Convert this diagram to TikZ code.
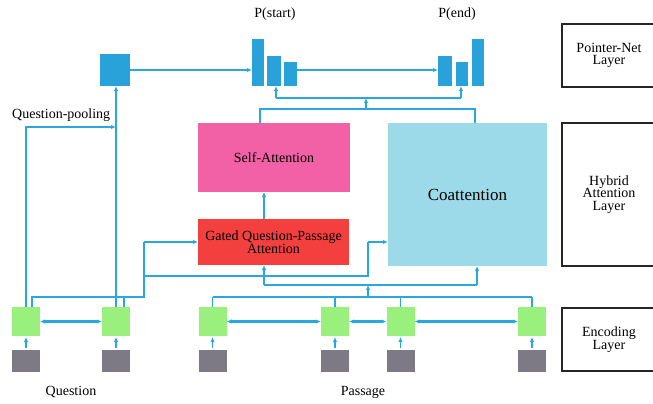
\documentclass[tikz,border=0pt]{standalone}
\usepackage{fontspec}
\setmainfont{Liberation Serif}
\usetikzlibrary{arrows.meta}
\definecolor{lineblue}{HTML}{2AA7DF}
\definecolor{barblue}{HTML}{28A2D8}
\definecolor{sapink}{HTML}{F260A6}
\definecolor{gatered}{HTML}{F43F3F}
\definecolor{coblue}{HTML}{9CD9E9}
\definecolor{encgreen}{HTML}{9AF07C}
\definecolor{embgray}{HTML}{7D7985}
\begin{document}
\begin{tikzpicture}[x=1pt,y=-1pt,
  conn/.style={draw=lineblue,line width=1.6pt},
  arr/.style={conn,-{Latex[length=5pt,width=4.5pt]}},
  barr/.style={conn,line width=2.2pt,{Latex[length=5pt,width=4.5pt]}-{Latex[length=5pt,width=4.5pt]}},
  bar/.style={fill=barblue,inner sep=0pt,outer sep=0pt},
  blk/.style={inner sep=0pt,outer sep=0pt,font=\fontsize{14}{12}\selectfont,align=center},
  layerbox/.style={draw=black!85,line width=1.3pt,inner sep=0pt,minimum width=94pt,font=\fontsize{14}{12.5}\selectfont,align=center},
  enc/.style={fill=encgreen,inner sep=0pt,outer sep=0pt,minimum width=28pt,minimum height=29pt},
  emb/.style={fill=embgray,inner sep=0pt,outer sep=0pt,minimum width=28pt,minimum height=22pt},
  lbl/.style={font=\fontsize{14}{12}\selectfont,inner sep=0pt}
]
\useasboundingbox (0,0) rectangle (653,404);
\fill[white] (0,0) rectangle (653,404);

% layer boxes
\node[layerbox,minimum height=63pt] (lp) at (609,55.5) {Pointer-Net\\Layer};
\node[layerbox,minimum height=143pt] (lh) at (609,194.5) {Hybrid\\Attention\\Layer};
\node[layerbox,minimum height=63pt] (le) at (609,339.5) {Encoding\\Layer};

% pointer net
\node[bar,minimum width=30pt,minimum height=32pt] (sq) at (115,70) {};
\node[bar,minimum width=12pt,minimum height=47pt] (s1) at (258,62.5) {};
\node[bar,minimum width=14pt,minimum height=30pt] (s2) at (274,71) {};
\node[bar,minimum width=13pt,minimum height=24pt] (s3) at (290.5,74) {};
\node[bar,minimum width=14pt,minimum height=30pt] (e1) at (445,71) {};
\node[bar,minimum width=12pt,minimum height=24pt] (e2) at (462,74) {};
\node[bar,minimum width=12pt,minimum height=47pt] (e3) at (478,62.5) {};
\node[lbl] (pst) at (275,14) {P(start)};
\node[lbl] (pen) at (457,14) {P(end)};

% attention blocks
\node[blk,fill=sapink,minimum width=152pt,minimum height=69pt] (sa) at (274,157.5) {Self-Attention};
\node[blk,fill=coblue,minimum width=159pt,minimum height=143pt,font=\fontsize{17}{17}\selectfont] (co) at (467.5,194.5) {Coattention};
\node[blk,fill=gatered,minimum width=151pt,minimum height=46pt] (ga) at (273.5,242) {Gated Question-Passage\\Attention};

% encoders
\foreach \n/\x in {q1/26,q2/116,p1/212.5,p2/335,p3/400.5,p4/532}{
  \node[enc] (\n) at (\x,321.5) {};
  \node[emb] (g\n) at (\x,361) {};
  \draw[arr,shorten <=2pt,shorten >=1pt] (g\n.north) -- (\n.south);
}
\draw[barr] (q1.east) -- (q2.west);
\draw[barr] (p1.east) -- (p2.west);
\draw[barr] (p2.east) -- (p3.west);
\draw[barr] (p3.east) -- (p4.west);

\node[lbl] (ql) at (71,392) {Question};
\node[lbl] (pl) at (363,392) {Passage};
\node[lbl,anchor=west] (qp) at (12,115) {Question-pooling};

% coordinates
\coordinate (qpj) at (116,127);
\coordinate (qa) at (32,297);
\coordinate (qb) at (124,297);
\coordinate (qc) at (144,297);
\coordinate (qd) at (144,242);
\coordinate (qe) at (144,276);
\coordinate (qf) at (368,276);
\coordinate (qg) at (368,242);
\coordinate (pa) at (212.5,297);
\coordinate (pb) at (532,297);
\coordinate (pm) at (368,297);
\coordinate (pn) at (368,285);
\coordinate (pl1) at (264,285);
\coordinate (pr1) at (477,285);
\coordinate (ta) at (260,109);
\coordinate (tb) at (475,109);
\coordinate (tm) at (366,109);
\coordinate (tn) at (366,98);
\coordinate (sb) at (276,98);
\coordinate (eb) at (461,98);

% question pooling
\draw[arr] (q1.north) |- (qpj);
\draw[arr] (q2.north) -- (q2.north |- sq.south);
\draw[arr] (sq.east) -- (sq.east -| s1.west);
\draw[arr] (sq.east -| s3.east) -- (sq.east -| e1.west);

% question vectors
\draw[conn] (q1.north -| qa) -- (qa) -- (qc) -- (qd);
\draw[conn] (q2.north -| qb) -- (qb);
\draw[arr] (qd) -- (ga.west |- qd);
\draw[conn] (qe) -- (qf) -- (qg);
\draw[arr] (qg) -- (co.west |- qg);

% passage vectors
\draw[conn] (pa) -- (pb);
\foreach \n in {p1,p2,p3,p4}{\draw[conn] (\n.north) -- (\n.north |- pa);}
\draw[arr] (pm) -- (pn);
\draw[conn] (pl1) -- (pr1);
\draw[arr] (pl1) -- (pl1 |- ga.south);
\draw[arr] (pr1) -- (pr1 |- co.south);

% gated to self-attention
\draw[arr] (ga.north -| pl1) -- (pl1 |- sa.south);

% top merge
\draw[conn] (ta |- sa.north) -- (ta) -- (tb) -- (tb |- co.north);
\draw[arr] (tm) -- (tn);
\draw[conn] (sb) -- (eb);
\draw[arr] (sb) -- (sb |- s2.south);
\draw[arr] (eb) -- (eb |- e2.south);
\end{tikzpicture}
\end{document}
